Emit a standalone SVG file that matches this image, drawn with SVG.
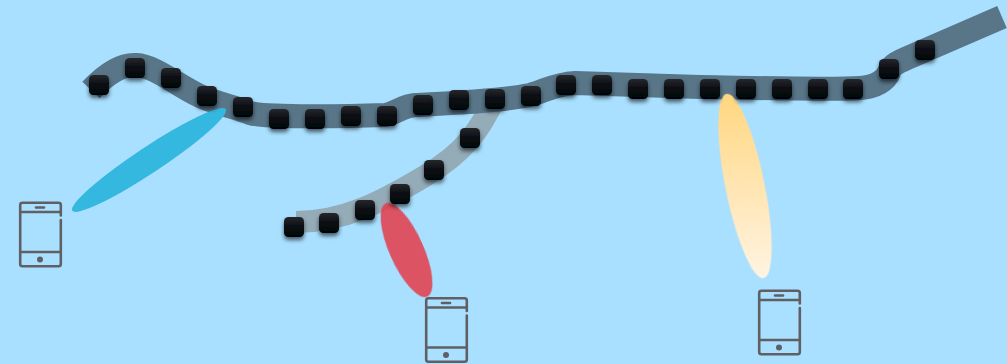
<svg xmlns="http://www.w3.org/2000/svg" width="1007" height="364" viewBox="0 0 1007 364">
<style>
.band{fill:none;stroke-linejoin:round}
.main{stroke:#587688;stroke-width:24}
.branch{stroke:#94abb8;stroke-width:22}
.ph{fill:none;stroke:#5f5f64;stroke-width:2.600;stroke-linecap:round;stroke-linejoin:round}
</style>
<defs>
<linearGradient id="ng" x1="0" y1="0" x2="0" y2="1"><stop offset="0" stop-color="#26282c"/><stop offset=".5" stop-color="#0a0d13"/><stop offset="1" stop-color="#02050b"/></linearGradient>
<linearGradient id="yg" gradientUnits="userSpaceOnUse" x1="745" y1="94" x2="745" y2="278" gradientTransform="rotate(-78.600 745 186)"><stop offset="0" stop-color="#ffd780"/><stop offset="1" stop-color="#fff3e2"/></linearGradient>
<filter id="sh" x="-50%" y="-50%" width="200%" height="210%"><feGaussianBlur in="SourceAlpha" stdDeviation="2.200" result="b"/><feOffset in="b" dy="2.500" result="o"/><feFlood flood-color="#000" flood-opacity=".6"/><feComposite in2="o" operator="in" result="s"/><feGaussianBlur in="SourceGraphic" stdDeviation=".5" result="g"/><feMerge><feMergeNode in="s"/><feMergeNode in="g"/></feMerge></filter>
<filter id="soft" x="-5%" y="-5%" width="110%" height="110%"><feGaussianBlur stdDeviation=".6"/></filter>
<rect id="n" x="-10" y="-10" width="20" height="20" rx="4.500" fill="url(#ng)"/>
<g id="phone" class="ph">
<path d="M41.800,14V3.500Q41.800,1.200 39.500,1.200H3.500Q1.200,1.200 1.200,3.500V62.500Q1.200,64.800 3.500,64.800H39.500Q41.800,64.800 41.800,62.500V18.500"/>
<path d="M1.200,10.500H41.800M1.200,50.500H41.800"/>
<path d="M17,6H25"/>
<circle cx="21" cy="58" r="3" fill="#5f5f64" stroke="none"/>
</g>
</defs>
<rect width="1007" height="364" fill="#a9e0ff"/>
<g id="connectors" filter="url(#soft)">
<path class="band branch" d="M296,222C345,222 385,200 425,176C465,152 480,130 495,98"/>
<path class="band main" d="M91,90C108,72 122,64 136,65C155,66 175,84 200,96C218,104 238,108 250,113C262,117 330,117 385,115C395,114 402,106 415,105C455,103 500,101 530,95C545,91 555,84 575,83L700,87C760,88 830,90 860,88C876,87 886,80 889,72C891,65 900,61 912,56L1002,17"/>
</g>
<g id="beams" filter="url(#soft)">
<ellipse id="beam-blue" cx="149" cy="160" rx="92" ry="13" transform="rotate(-33.500 149 160)" fill="#35b8e0"/>
<ellipse id="beam-red" cx="406.500" cy="250" rx="51" ry="17" transform="rotate(66 406.500 250)" fill="#e2404d" fill-opacity=".88"/>
<ellipse id="beam-yellow" cx="745" cy="186" rx="94" ry="19.500" transform="rotate(78.600 745 186)" fill="url(#yg)"/>
</g>
<g id="nodes" filter="url(#sh)">
<g id="n1"><use href="#n" x="99" y="85"/></g>
<g id="n2"><use href="#n" x="135" y="68"/></g>
<g id="n3"><use href="#n" x="171" y="78"/></g>
<g id="n4"><use href="#n" x="207" y="96"/></g>
<g id="n5"><use href="#n" x="243" y="107"/></g>
<g id="n6"><use href="#n" x="279" y="119"/></g>
<g id="n7"><use href="#n" x="315" y="119"/></g>
<g id="n8"><use href="#n" x="351" y="116"/></g>
<g id="n9"><use href="#n" x="387" y="116"/></g>
<g id="n10"><use href="#n" x="423" y="105"/></g>
<g id="n11"><use href="#n" x="459" y="100"/></g>
<g id="n12"><use href="#n" x="495" y="99"/></g>
<g id="n13"><use href="#n" x="531" y="96"/></g>
<g id="n14"><use href="#n" x="566" y="85"/></g>
<g id="n15"><use href="#n" x="602" y="85"/></g>
<g id="n16"><use href="#n" x="638" y="89"/></g>
<g id="n17"><use href="#n" x="674" y="89"/></g>
<g id="n18"><use href="#n" x="710" y="89"/></g>
<g id="n19"><use href="#n" x="746" y="89"/></g>
<g id="n20"><use href="#n" x="782" y="89"/></g>
<g id="n21"><use href="#n" x="818" y="89"/></g>
<g id="n22"><use href="#n" x="853" y="89"/></g>
<g id="n23"><use href="#n" x="889" y="69"/></g>
<g id="n24"><use href="#n" x="925" y="50"/></g>
<g id="b1"><use href="#n" x="294" y="227"/></g>
<g id="b2"><use href="#n" x="329" y="223"/></g>
<g id="b3"><use href="#n" x="365" y="210"/></g>
<g id="b4"><use href="#n" x="400" y="194"/></g>
<g id="b5"><use href="#n" x="434" y="170"/></g>
<g id="b6"><use href="#n" x="470" y="138"/></g>
</g>
<g id="phone1"><use href="#phone" x="19" y="201.500"/></g>
<g id="phone2"><use href="#phone" x="425" y="297"/></g>
<g id="phone3"><use href="#phone" x="758" y="289.500"/></g>
</svg>
